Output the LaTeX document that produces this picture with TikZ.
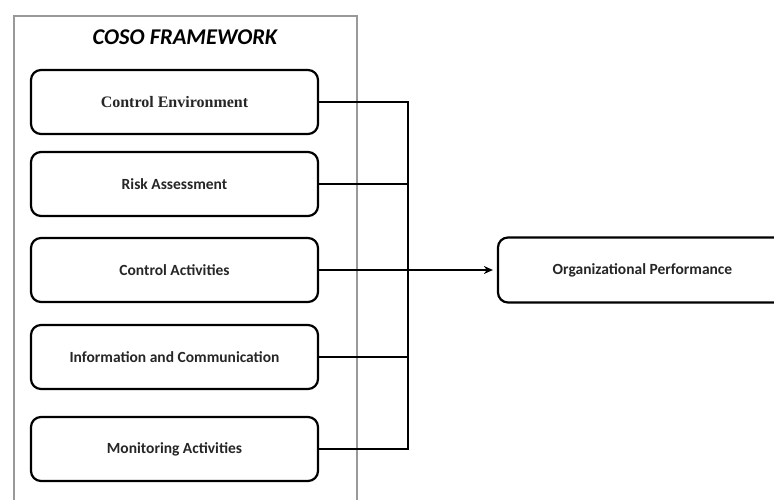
\documentclass[tikz,border=0pt]{standalone}
\usepackage{fontspec}
\setmainfont{Carlito}
\newfontfamily\serifbold{Liberation Serif}
\usetikzlibrary{arrows.meta}
\begin{document}
\begin{tikzpicture}[x=1pt,y=-1pt,
  cbox/.style={draw=black, line width=2.2pt, rounded corners=10pt, minimum width=287pt, minimum height=64pt, inner sep=0pt, font=\fontsize{15.5}{18}\selectfont\bfseries, text=black!85},
  conn/.style={line width=2pt, draw=black}]
\useasboundingbox (0,0) rectangle (774,500);
\clip (0,0) rectangle (774,500);
\fill[white] (0,0) rectangle (774,500);
% frame
\draw[line width=2pt, draw=black!40] (14,520) -- (14,16) -- (357,16) -- (357,520);
\node (title) at (185,37) {\fontsize{22.5}{26}\selectfont\bfseries\itshape COSO FRAMEWORK};
% boxes
\node[cbox, font=\fontsize{16}{19}\selectfont\serifbold\bfseries] (b1) at (174.5,102) {Control Environment};
\node[cbox] (b2) at (174.5,184) {Risk Assessment};
\node[cbox] (b3) at (174.5,270) {Control Activities};
\node[cbox] (b4) at (174.5,357) {Information and Communication};
\node[cbox] (b5) at (174.5,449) {Monitoring Activities};
\node[cbox, minimum width=289pt, minimum height=65pt] (op) at (642.5,270) {Organizational Performance};
\coordinate (j) at (408,270);
\draw[conn] (b1.east) -| (j);
\draw[conn] (b2.east) -| (j);
\draw[conn] (b3.east) -- (j);
\draw[conn] (b4.east) -| (j);
\draw[conn] (b5.east) -| (j);
\draw[conn, -{Stealth[length=9pt,width=8pt]}, shorten >=4pt] (j) -- (op.west);
\end{tikzpicture}
\end{document}
